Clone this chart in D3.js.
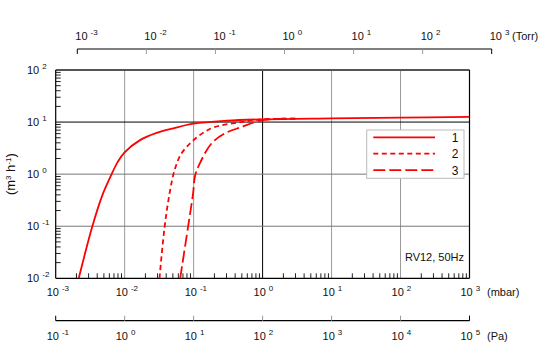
<!DOCTYPE html>
<meta charset="utf-8">
<script src="https://d3js.org/d3.v7.min.js"></script>
<style>
  body { margin: 0; background: #fff; }
  text { font-family: "Liberation Sans", Arial, sans-serif; fill: #111; }
</style>
<div id="chart"></div>
<script>
// pumping speed curves, pressure in mbar, speed in m3/h
const curve1P = [2.16e-3, 3.4e-3, 4.8e-3, 6.3e-3, 7.9e-3, 9.9e-3, 1.67e-2, 2.9e-2, 5.1e-2, 0.1, 0.3, 1, 10, 100, 1000];
const curve1S = [0.01, 0.1, 0.41, 0.93, 1.7, 2.6, 4.5, 6.2, 7.6, 9.3, 10.6, 11.3, 11.8, 12.2, 12.6];
const curve2P = [0.032, 0.0378, 0.0447, 0.0527, 0.066, 0.098, 0.145, 0.2, 0.49, 1, 3];
const curve2S = [0.01, 0.093, 0.42, 1.17, 2.45, 4.4, 6.5, 8.0, 10.0, 11.3, 11.6];
const curve3P = [0.0638, 0.0826, 0.098, 0.105, 0.122, 0.18, 0.28, 0.49, 0.96, 3];
const curve3S = [0.01, 0.093, 0.42, 0.93, 1.57, 3.84, 6.0, 8.0, 10.8, 11.6];
const seriesNames = ["1", "2", "3"];
const mbarExp = [-3, -2, -1, 0, 1, 2, 3];
const paExp = [-1, 0, 1, 2, 3, 4, 5];
const torrExp = [-3, -2, -1, 0, 1, 2, 3];
const speedExp = [-2, -1, 0, 1, 2];

const W = 541, H = 345;
const pLeft = 55.7, pRight = 469.5, pTop = 70, pBottom = 278.3;

const svg = d3.select("#chart").append("svg")
  .attr("width", W).attr("height", H);

const x = d3.scaleLog().domain([1e-3, 1e3]).range([pLeft, pRight]);
const y = d3.scaleLog().domain([1e-2, 1e2]).range([pBottom, pTop]);
const xPa = d3.scaleLog().domain([1e-1, 1e5]).range([pLeft, pRight]);
const xTorr = d3.scaleLog().domain([1e-3, 1e3]).range([77.3, 491.7]);

// label like "10 ^n"
function powLabel(sel, n) {
  sel.append("tspan").text("10");
  sel.append("tspan").attr("dx", 3).attr("dy", -5).attr("font-size", 8).text(n);
}

// grid lines
const g = svg.append("g");
g.selectAll(".vg").data(mbarExp.slice(1, -1)).join("line")
  .attr("x1", d => x(Math.pow(10, d))).attr("x2", d => x(Math.pow(10, d)))
  .attr("y1", pTop).attr("y2", pBottom)
  .attr("stroke", d => d === 0 ? "#000" : "#999").attr("stroke-width", 1);
g.selectAll(".hg").data(speedExp.slice(1, -1)).join("line")
  .attr("y1", d => y(Math.pow(10, d))).attr("y2", d => y(Math.pow(10, d)))
  .attr("x1", pLeft).attr("x2", pRight)
  .attr("stroke", d => d === 1 ? "#000" : "#777").attr("stroke-width", 1);

// minor ticks
const minors = [];
for (let e = -3; e < 3; e++) for (let m = 2; m < 10; m++) minors.push(m * Math.pow(10, e));
g.selectAll(".mx").data(minors).join("line")
  .attr("x1", d => x(d)).attr("x2", d => x(d))
  .attr("y1", pBottom).attr("y2", pBottom - 5)
  .attr("stroke", "#222");
const minorsY = [];
for (let e = -2; e < 2; e++) for (let m = 2; m < 10; m++) minorsY.push(m * Math.pow(10, e));
g.selectAll(".my").data(minorsY).join("line")
  .attr("y1", d => y(d)).attr("y2", d => y(d))
  .attr("x1", pLeft).attr("x2", pLeft + 5)
  .attr("stroke", "#222");

// frame
svg.append("line").attr("x1", pLeft).attr("x2", pRight).attr("y1", pTop).attr("y2", pTop)
  .attr("stroke", "#555").attr("stroke-width", 2);
svg.append("line").attr("x1", pLeft).attr("x2", pRight).attr("y1", pBottom).attr("y2", pBottom)
  .attr("stroke", "#000").attr("stroke-width", 1.2);
svg.append("line").attr("x1", pLeft).attr("x2", pLeft).attr("y1", pTop).attr("y2", pBottom)
  .attr("stroke", "#000").attr("stroke-width", 1.2);
svg.append("line").attr("x1", pRight).attr("x2", pRight).attr("y1", pTop).attr("y2", pBottom)
  .attr("stroke", "#000").attr("stroke-width", 1.2);

// curves
const line = d3.line().x(d => x(d[0])).y(d => y(d[1])).curve(d3.curveCatmullRom.alpha(0.5));
const curves = [
  {p: curve1P, s: curve1S, dash: null},
  {p: curve2P, s: curve2S, dash: "5,3.5"},
  {p: curve3P, s: curve3S, dash: "12,4"}
];
svg.append("clipPath").attr("id", "clip").append("rect")
  .attr("x", pLeft).attr("y", pTop - 2).attr("width", pRight - pLeft).attr("height", pBottom - pTop + 2);
curves.slice().reverse().forEach(c => {
  svg.append("path")
    .datum(c.p.map((p, i) => [p, c.s[i]]))
    .attr("clip-path", "url(#clip)")
    .attr("fill", "none").attr("stroke", "#ff0000").attr("stroke-width", 1.8)
    .attr("stroke-dasharray", c.dash)
    .attr("d", line);
});

// left tick labels
speedExp.forEach(e => {
  const t = svg.append("text").attr("x", 27).attr("y", y(Math.pow(10, e)) + 4)
    .attr("font-size", 11);
  powLabel(t, e);
});
svg.append("text")
  .attr("transform", `translate(15,${(pTop + pBottom) / 2}) rotate(-90)`)
  .attr("text-anchor", "middle").attr("font-size", 13)
  .call(t => {
    t.append("tspan").text("(m");
    t.append("tspan").attr("dy", -4).attr("font-size", 8).text("3");
    t.append("tspan").attr("dy", 4).text(" h");
    t.append("tspan").attr("dy", -4).attr("font-size", 8).text("-1");
    t.append("tspan").attr("dy", 4).text(")");
  });

// mbar labels
mbarExp.forEach(e => {
  const t = svg.append("text").attr("x", x(Math.pow(10, e)) - 9).attr("y", 296)
    .attr("font-size", 11);
  powLabel(t, e);
});
svg.append("text").attr("x", 487).attr("y", 296).attr("font-size", 11).text("(mbar)");

// Pa axis
const paY = 320.7;
svg.append("line").attr("x1", pLeft).attr("x2", pRight).attr("y1", paY).attr("y2", paY)
  .attr("stroke", "#000").attr("stroke-width", 1.2);
svg.selectAll(".pt").data(paExp).join("line")
  .attr("x1", d => xPa(Math.pow(10, d))).attr("x2", d => xPa(Math.pow(10, d)))
  .attr("y1", paY).attr("y2", paY - 5)
  .attr("stroke", d => (d === paExp[0] || d === paExp[paExp.length - 1]) ? "#000" : "#999");
paExp.forEach(e => {
  const t = svg.append("text").attr("x", xPa(Math.pow(10, e)) - 9).attr("y", 340)
    .attr("font-size", 11);
  powLabel(t, e);
});
svg.append("text").attr("x", 487).attr("y", 340).attr("font-size", 11).text("(Pa)");

// Torr axis
const torrY = 49;
svg.append("line").attr("x1", xTorr.range()[0]).attr("x2", xTorr.range()[1])
  .attr("y1", torrY).attr("y2", torrY)
  .attr("stroke", "#000").attr("stroke-width", 1.2);
svg.selectAll(".tt").data(torrExp).join("line")
  .attr("x1", d => xTorr(Math.pow(10, d))).attr("x2", d => xTorr(Math.pow(10, d)))
  .attr("y1", torrY).attr("y2", torrY + 5)
  .attr("stroke", d => (d === torrExp[0] || d === torrExp[torrExp.length - 1]) ? "#000" : "#999");
torrExp.forEach(e => {
  const t = svg.append("text").attr("x", xTorr(Math.pow(10, e)) - 2).attr("y", 40)
    .attr("font-size", 11);
  powLabel(t, e);
});
svg.append("text").attr("x", 512).attr("y", 40).attr("font-size", 11).text("(Torr)");

// legend
const lg = svg.append("g");
lg.append("rect").attr("x", 366.7).attr("y", 130).attr("width", 97.3).attr("height", 48.3)
  .attr("fill", "#fff").attr("stroke", "#bbb");
seriesNames.forEach((n, i) => {
  const ly = 137.3 + i * 16.4;
  lg.append("line").attr("x1", 373.3).attr("x2", 435).attr("y1", ly).attr("y2", ly)
    .attr("stroke", "#ff0000").attr("stroke-width", 1.8)
    .attr("stroke-dasharray", curves[i].dash);
  lg.append("text").attr("x", 455).attr("y", ly + 4.5).attr("text-anchor", "middle")
    .attr("font-size", 12).text(n);
});

svg.append("text").attr("x", 464).attr("y", 260.5).attr("text-anchor", "end")
  .attr("font-size", 11).text("RV12, 50Hz");
</script>
